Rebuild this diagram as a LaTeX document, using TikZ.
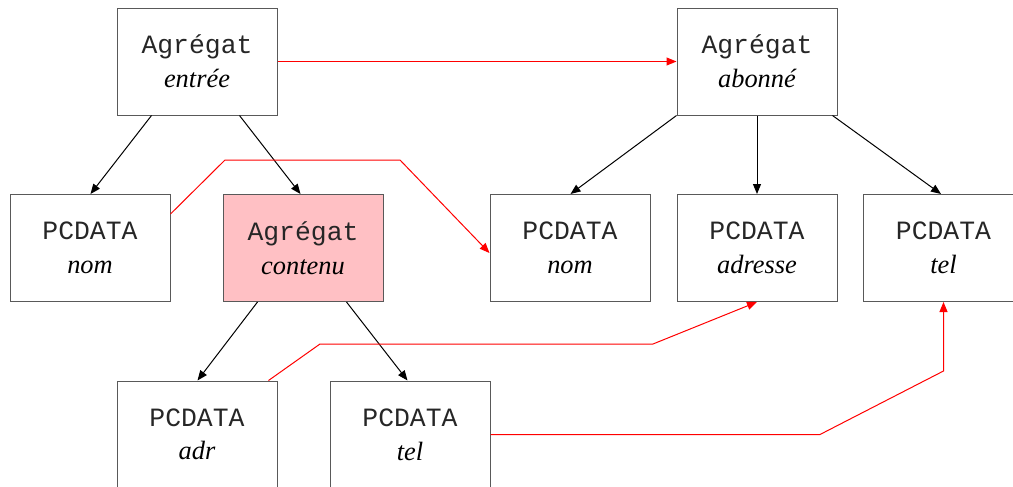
\documentclass[tikz,border=0pt]{standalone}
\usepackage{fontspec}
\setmainfont{Liberation Serif}
\setmonofont{Liberation Mono}
\usetikzlibrary{arrows.meta,calc}
\definecolor{boxpink}{RGB}{255,192,196}
\newcommand{\kindtxt}[1]{{\ttfamily\color{black!85}#1}}
\begin{document}
\begin{tikzpicture}[x=0.5pt,y=-0.5pt,
  box/.style={draw=black!65,line width=0.5pt,minimum width=80pt,minimum height=53.5pt,inner sep=0pt,align=center,
    font=\fontsize{13.2}{16.8}\selectfont},
  tree/.style={draw=black,line width=0.5pt,-{Triangle[length=5pt,width=4pt]}},
  link/.style={draw=red,line width=0.5pt,-{Triangle[length=5pt,width=4pt]}}]
\useasboundingbox (0,0) rectangle (1013,487);
\node[box] (entree) at (197,61.5) {\kindtxt{Agrégat}\\\itshape entrée};
\node[box] (abonne) at (757,61.5) {\kindtxt{Agrégat}\\\itshape abonné};
\node[box] (nom1) at (90,248) {\kindtxt{PCDATA}\\\itshape nom};
\node[box,fill=boxpink] (contenu) at (303,248) {\kindtxt{Agrégat}\\\itshape contenu};
\node[box] (nom2) at (570,248) {\kindtxt{PCDATA}\\\itshape nom};
\node[box] (adresse) at (757,248) {\kindtxt{PCDATA}\\\itshape adresse};
\node[box] (tel1) at (943.5,248) {\kindtxt{PCDATA}\\\itshape tel};
\node[box] (adr) at (197,434.5) {\kindtxt{PCDATA}\\\itshape adr};
\node[box] (tel2) at (410,434.5) {\kindtxt{PCDATA}\\\itshape tel};
% tree edges
\draw[tree] ($(entree.south west)+(35,0)$) -- ($(nom1.north west)+(81,0)$);
\draw[tree] ($(entree.south west)+(123,0)$) -- ($(contenu.north west)+(78,0)$);
\draw[tree] (abonne.south west) -- ($(nom2.north west)+(81,0)$);
\draw[tree] (abonne.south) -- (adresse.north);
\draw[tree] ($(abonne.south west)+(156,0)$) -- ($(tel1.north west)+(78,0)$);
\draw[tree] ($(contenu.south west)+(35,0)$) -- ($(adr.north west)+(81,0)$);
\draw[tree] ($(contenu.south west)+(124,0)$) -- ($(tel2.north west)+(78,0)$);
% reference links
\draw[link] (entree.east) -- (abonne.west);
\draw[link] ($(nom1.north east)+(0,20)$) -- (225,160) -- (400,160) -- ($(nom2.west)+(0,5)$);
\draw[link] ($(adr.north west)+(152,0)$) -- (320,344) -- (653,344) -- (adresse.south);
\draw[link] (tel2.east) -- (820,434.5) -- (943.5,371) -- (tel1.south);
\end{tikzpicture}
\end{document}
